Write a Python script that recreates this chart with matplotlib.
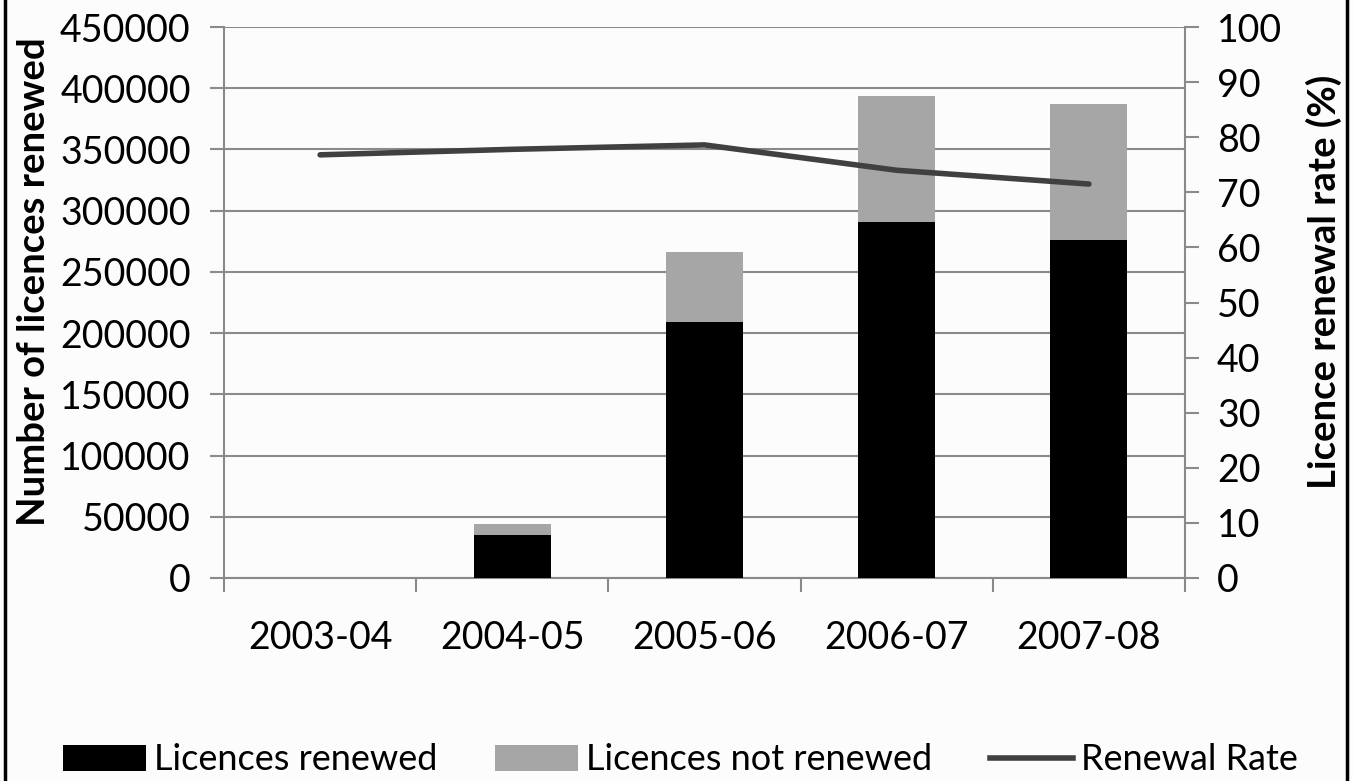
import numpy as np
import matplotlib
matplotlib.use("Agg")
import matplotlib.pyplot as plt
from matplotlib.patches import Patch
from matplotlib.lines import Line2D

# licence data by financial year
years = ["2003-04", "2004-05", "2005-06", "2006-07", "2007-08"]
renewed = [0, 35000, 209000, 291000, 276000]
not_renewed = [0, 8800, 57000, 103000, 111000]
renewal_rate = [76.8, 77.8, 78.6, 74.0, 71.5]

plt.rcParams["font.family"] = ["Lato", "DejaVu Sans"]
axis_grey = "#8a8a8a"
tick_size = 27

fig = plt.figure(figsize=(13.53, 7.81), dpi=100, facecolor="#fcfcfc")
ax = fig.add_axes([224 / 1353, 1 - 578 / 781, (1185 - 224) / 1353, 551 / 781])
ax.set_facecolor("#fcfcfc")

x = np.arange(len(years))
ax.bar(x, renewed, width=0.4, color="black", zorder=3)
ax.bar(x, not_renewed, width=0.4, bottom=renewed, color="#a6a6a6", zorder=3)

ax.set_xlim(-0.5, len(years) - 0.5)
ax.set_ylim(0, 450000)
ax.set_yticks(np.arange(0, 450001, 50000))
ax.grid(axis="y", color=axis_grey, linewidth=1.5, zorder=0)

# category ticks sit between the bars, labels at bar centres
ax.set_xticks(np.arange(-0.5, len(years), 1.0))
ax.set_xticklabels([])
ax.set_xticks(x, minor=True)
ax.set_xticklabels(years, minor=True)
ax.tick_params(axis="x", which="major", length=10, width=1.5, color=axis_grey)
ax.tick_params(axis="x", which="minor", length=0, pad=30, labelsize=tick_size)
ax.tick_params(axis="y", length=10, width=1.5, color=axis_grey, pad=14, labelsize=tick_size)

for side in ["top", "right"]:
    ax.spines[side].set_visible(False)
for side in ["left", "bottom"]:
    ax.spines[side].set_color(axis_grey)
    ax.spines[side].set_linewidth(1.5)

ax.set_ylabel("Number of licences renewed", fontsize=27.5, fontweight="bold")
ax.yaxis.set_label_coords(-0.180, 0.537)

ax2 = ax.twinx()
ax2.plot(x, renewal_rate, color="#404040", linewidth=4, solid_capstyle="round", zorder=4)
ax2.set_ylim(0, 100)
ax2.set_yticks(np.arange(0, 101, 10))
ax2.tick_params(axis="y", length=10, width=1.5, color=axis_grey, pad=13, labelsize=tick_size)
for side in ["top", "left", "bottom"]:
    ax2.spines[side].set_visible(False)
ax2.spines["right"].set_color(axis_grey)
ax2.spines["right"].set_linewidth(1.5)
ax2.set_ylabel("Licence renewal rate (%)", fontsize=27.5, fontweight="bold")
ax2.yaxis.set_label_coords(1.126, 0.537)

handles = [
    Patch(facecolor="black", edgecolor="none"),
    Patch(facecolor="#a6a6a6", edgecolor="none"),
    Line2D([], [], color="#404040", linewidth=4),
]
labels = ["Licences renewed", "Licences not renewed", "Renewal Rate"]
fig.legend(handles, labels, loc="center", bbox_to_anchor=(0.503, 0.027), ncol=3,
           frameon=False, fontsize=26, handlelength=2.3, handleheight=0.75,
           handletextpad=0.22, columnspacing=1.6, borderaxespad=0)

# frame lines at the figure's left and right edges
fig.add_artist(Line2D([5 / 1353, 5 / 1353], [0, 1], color="black", linewidth=2.5))
fig.add_artist(Line2D([1347 / 1353, 1347 / 1353], [0, 1], color="black", linewidth=2.5))

fig.savefig("out.png", dpi=100, facecolor=fig.get_facecolor())
